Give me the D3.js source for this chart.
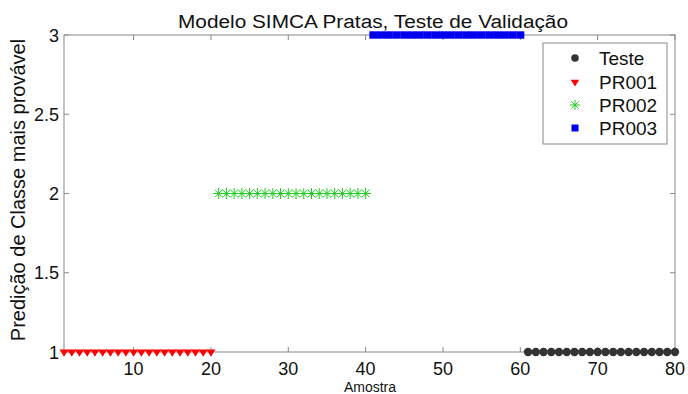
<!DOCTYPE html>
<html><head><meta charset="utf-8">
<script src="https://cdn.jsdelivr.net/npm/d3@7"></script>
<style>body{margin:0;background:#fff}svg{display:block;font-family:"Liberation Sans",Arial,sans-serif}</style>
</head><body>
<svg id="c" width="688" height="394"></svg>
<script>
const testeX = d3.range(61, 81);
const testeY = testeX.map(() => 1);
const pr001X = d3.range(1, 21);
const pr001Y = pr001X.map(() => 1);
const pr002X = d3.range(21, 41);
const pr002Y = pr002X.map(() => 2);
const pr003X = d3.range(41, 61);
const pr003Y = pr003X.map(() => 3);
const xTicks = [10, 20, 30, 40, 50, 60, 70, 80];
const yTicks = [1, 1.5, 2, 2.5, 3];
const legendLabels = ["Teste", "PR001", "PR002", "PR003"];

const svg = d3.select("#c");
const L = 64, R = 675, T = 35, B = 352;
const x = d3.scaleLinear().domain([1, 80]).range([L, R]);
const y = d3.scaleLinear().domain([1, 3]).range([B, T]);

svg.append("rect").attr("x", L).attr("y", T).attr("width", R - L).attr("height", B - T)
  .attr("fill", "none").attr("stroke", "#888").attr("stroke-width", 1);

const tl = 5;
const gx = svg.append("g").attr("font-size", 18).attr("fill", "#111");
xTicks.forEach(t => {
  gx.append("line").attr("x1", x(t)).attr("x2", x(t)).attr("y1", B).attr("y2", B - tl).attr("stroke", "#888");
  gx.append("line").attr("x1", x(t)).attr("x2", x(t)).attr("y1", T).attr("y2", T + tl).attr("stroke", "#888");
  gx.append("text").attr("x", x(t)).attr("y", B + 23).attr("text-anchor", "middle").text(t);
});
yTicks.forEach(t => {
  gx.append("line").attr("x1", L).attr("x2", L + tl).attr("y1", y(t)).attr("y2", y(t)).attr("stroke", "#888");
  gx.append("line").attr("x1", R).attr("x2", R - tl).attr("y1", y(t)).attr("y2", y(t)).attr("stroke", "#888");
  gx.append("text").attr("x", L - 5).attr("y", y(t) + 6.5).attr("text-anchor", "end").text(t);
});

svg.append("text").attr("x", 373).attr("y", 28).attr("text-anchor", "middle").attr("font-size", 18).attr("fill", "#111")
  .attr("textLength", 390).attr("lengthAdjust", "spacingAndGlyphs")
  .text("Modelo SIMCA Pratas, Teste de Validação");
svg.append("text").attr("x", 370).attr("y", 392).attr("text-anchor", "middle").attr("font-size", 14).attr("fill", "#111")
  .text("Amostra");
svg.append("text").attr("transform", "translate(25,190) rotate(-90)").attr("text-anchor", "middle").attr("font-size", 20).attr("fill", "#111")
  .text("Predição de Classe mais provável");

function tri(g, cx, cy, s) {
  g.append("path").attr("d", `M${cx - s},${cy - s * 0.55}L${cx + s},${cy - s * 0.55}L${cx},${cy + s * 1.05}Z`).attr("fill", "#f00");
}
function star(g, cx, cy, s) {
  const p = [];
  for (let i = 0; i < 4; i++) {
    const a = i * Math.PI / 4;
    p.push(`M${cx - s * Math.cos(a)},${cy - s * Math.sin(a)}L${cx + s * Math.cos(a)},${cy + s * Math.sin(a)}`);
  }
  g.append("path").attr("d", p.join("")).attr("stroke", "#22cc22").attr("stroke-width", 1).attr("fill", "none");
}
const gm = svg.append("g");
pr001X.forEach((v, i) => tri(gm, x(v), y(pr001Y[i]), 4.5));
pr002X.forEach((v, i) => star(gm, x(v), y(pr002Y[i]), 5.5));
pr003X.forEach((v, i) => gm.append("rect").attr("x", x(v) - 4).attr("y", y(pr003Y[i]) - 3.7).attr("width", 8).attr("height", 7.4).attr("fill", "#0000ee"));
testeX.forEach((v, i) => gm.append("circle").attr("cx", x(v)).attr("cy", y(testeY[i])).attr("r", 4.2).attr("fill", "#333"));

const lg = svg.append("g");
lg.append("rect").attr("x", 543).attr("y", 43).attr("width", 124).attr("height", 101).attr("fill", "#fff").attr("stroke", "#888");
const ly = [58, 82, 105, 128];
legendLabels.forEach((t, i) => {
  lg.append("text").attr("x", 599).attr("y", ly[i] + 7).attr("font-size", 19).attr("fill", "#111").text(t);
});
lg.append("circle").attr("cx", 575).attr("cy", ly[0]).attr("r", 3.8).attr("fill", "#333");
tri(lg, 575, ly[1], 4.2);
star(lg, 575, ly[2], 5);
lg.append("rect").attr("x", 571.5).attr("y", ly[3] - 3.5).attr("width", 7).attr("height", 7).attr("fill", "#0000ee");
</script>
</body></html>
